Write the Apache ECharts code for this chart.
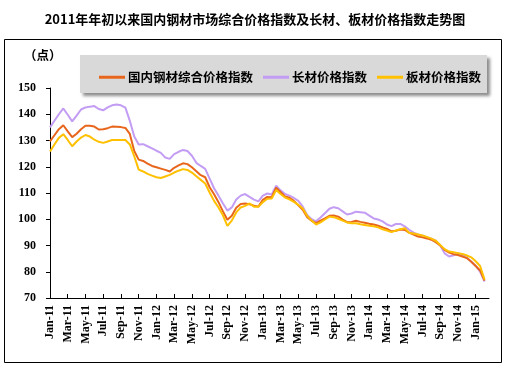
<!DOCTYPE html>
<html>
<head>
<meta charset="utf-8">
<script src="https://cdn.jsdelivr.net/npm/echarts@6/dist/echarts.min.js"></script>
<style>
html,body{margin:0;padding:0;background:#fff;}
#chart{width:510px;height:367px;}
</style>
</head>
<body>
<div id="chart"></div>
<script>
var tickLabels = ['Jan-11','Mar-11','May-11','Jul-11','Sep-11','Nov-11','Jan-12','Mar-12','May-12','Jul-12','Sep-12','Nov-12',
  'Jan-13','Mar-13','May-13','Jul-13','Sep-13','Nov-13','Jan-14','Mar-14','May-14','Jul-14','Sep-14','Nov-14','Jan-15'];

var seriesNames = ['国内钢材综合价格指数','长材价格指数','板材价格指数'];

// half-month observations from Jan-11 to Feb-15
var composite = [129.7,132,134.3,135.8,133.5,131.3,132.6,134.3,135.6,135.6,135.3,134.2,134.3,134.7,135.3,135.2,135.1,134.8,132.5,126,
  122.7,122.2,121.2,120.3,119.8,119.3,118.8,118.2,119.6,120.5,121.3,121,119.8,118.3,116.8,116,112.2,109.5,106.5,103,
  99.8,101.3,104.4,105.8,106,105.7,105.2,104.8,107.4,108.5,108.4,112,110.4,108.7,108.2,107,105.3,103.6,100.8,99.4,
  98.5,99.5,100.3,101.3,101.4,101,99.9,98.9,99,99.4,99,98.7,98.3,98,97.5,96.9,96.3,95.4,95.6,96.1,
  95.9,94.9,94.2,93.4,93.1,92.7,92.2,91.3,90,88.3,87.3,86.7,86.4,85.8,85.2,83.8,82.2,80.5,76.6];

var longSteel = [135,137.5,140,142.2,139.8,137.3,139.5,141.8,142.6,142.9,143.1,142,141.5,142.6,143.4,143.7,143.4,142.5,137.5,131.5,
  128.5,128.6,127.8,127,126.1,125.3,123.5,123,124.8,125.7,126.4,126,124.2,121.5,120.3,119.2,115.5,111.8,109,106,
  103.3,104.5,107.5,109,109.6,108.5,107.5,106.8,109,109.8,109.4,112.8,111,109.6,109,108.1,107,104.8,101.6,100,
  99.2,100.7,102.3,104,104.6,104.2,103,101.8,102.2,102.9,102.7,102.5,101.4,100.3,99.9,99.2,98,97.4,98.2,98.2,
  97.3,96,94.9,94.2,93.7,93.1,92.6,91.8,90,87,85.8,86.3,87,86.5,85.3,83.9,82.2,80,76.3];

var plate = [125.8,128.5,131,132.4,130.2,127.8,129.6,131.1,132.1,131.5,130.3,129.5,129.1,129.6,130.2,130.2,130.2,130.2,128.5,124,
  118.9,118.2,117.3,116.6,116,115.7,116.3,116.9,117.8,118.5,119.1,118.8,117.8,116.4,115,113.6,110.2,107,104.5,101.5,
  97.5,99.5,102.6,104.5,105.1,106,104.8,104.8,106.5,107.8,107.9,111.1,109.6,108.3,107.6,106.6,105.5,104.1,101.3,99.5,
  98,98.8,99.9,101,100.8,100.2,99.5,98.8,98.5,98.5,98.1,97.8,97.5,97.3,96.9,96.2,95.7,95.1,95.7,96.2,
  96.6,94.8,94.6,94.2,93.8,93.3,92.6,91.8,90.2,88.6,87.7,87.4,87.1,86.8,86.2,85.5,84,82.2,77];

// categories: two slots per month, a labelled tick every two months
var categories = [];
for (var i = 0; i < 100; i++) {
  categories.push(i % 4 === 0 ? tickLabels[i / 4] : ('h' + i));
}

var chart = echarts.init(document.getElementById('chart'), null, {renderer: 'canvas'});
var serifBold = {fontFamily: '"Liberation Serif","DejaVu Serif",serif', fontWeight: 'bold', color: '#000'};
chart.setOption({
  animation: false,
  backgroundColor: '#fff',
  title: {
    text: '2011年年初以来国内钢材市场综合价格指数及长材、板材价格指数走势图',
    left: 'center', top: 8,
    textStyle: {fontFamily: '"Noto Sans CJK SC",sans-serif', fontWeight: 'bold', fontSize: 13, color: '#000'}
  },
  graphic: [
    {type: 'rect', z: -10, shape: {x: 4.5, y: 39.5, width: 497, height: 323}, style: {fill: 'none', stroke: '#000', lineWidth: 1}},
    {type: 'rect', z: -5, shape: {x: 80, y: 55, width: 407, height: 38},
      style: {fill: '#d9d9d9', shadowBlur: 3, shadowOffsetX: 3, shadowOffsetY: 3, shadowColor: 'rgba(0,0,0,0.45)'}},
    {type: 'text', left: 24, top: 49, style: {text: '（点）', font: 'bold 12.5px "Noto Sans CJK SC"', fill: '#000'}}
  ],
  legend: {
    left: 94, top: 66,
    itemWidth: 26, itemHeight: 3, itemGap: 10,
    icon: 'rect',
    textStyle: {fontFamily: '"Noto Sans CJK SC",sans-serif', fontWeight: 'bold', fontSize: 12.5, color: '#000', padding: [0, 0, 0, -2]},
    data: [seriesNames[0], seriesNames[1], seriesNames[2]]
  },
  grid: {left: 50, right: 21, top: 88, bottom: 69},
  xAxis: {
    type: 'category',
    data: categories,
    boundaryGap: false,
    axisLine: {lineStyle: {color: '#000', width: 1}},
    axisTick: {inside: true, length: 4, interval: 3, lineStyle: {color: '#000'}},
    axisLabel: Object.assign({interval: 3, rotate: 90, fontSize: 12, margin: 7,
      formatter: function (v) { return v.charAt(0) === 'h' ? '' : v; }}, serifBold),
    splitLine: {show: false}
  },
  yAxis: {
    type: 'value', min: 70, max: 150, interval: 10,
    axisLine: {show: true, lineStyle: {color: '#000', width: 1}},
    axisTick: {show: true, length: 4, lineStyle: {color: '#000'}},
    axisLabel: Object.assign({fontSize: 12, margin: 14}, serifBold),
    splitLine: {show: false}
  },
  series: [
    {name: seriesNames[1], type: 'line', data: longSteel, showSymbol: false, lineStyle: {width: 2, color: '#c39cf4'}, itemStyle: {color: '#c39cf4'}},
    {name: seriesNames[0], type: 'line', data: composite, showSymbol: false, lineStyle: {width: 2, color: '#e8661c'}, itemStyle: {color: '#e8661c'}},
    {name: seriesNames[2], type: 'line', data: plate, showSymbol: false, lineStyle: {width: 2, color: '#ffc000'}, itemStyle: {color: '#ffc000'}}
  ]
});
</script>
</body>
</html>
